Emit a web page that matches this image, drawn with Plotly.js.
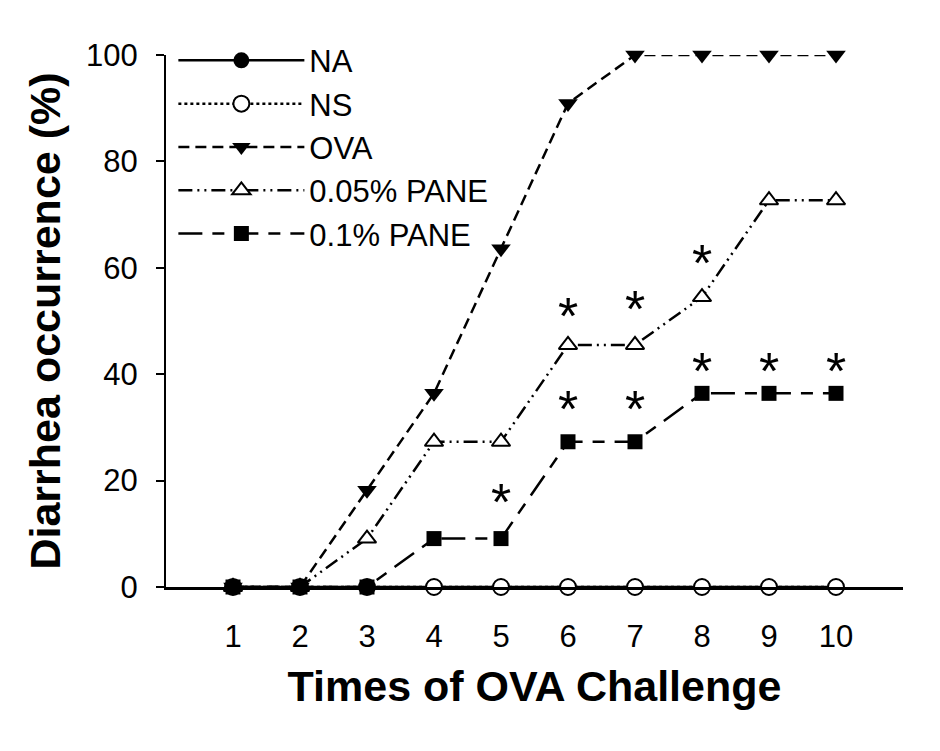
<!DOCTYPE html>
<html>
<head>
<meta charset="utf-8">
<script src="https://cdn.plot.ly/plotly-3.0.1.min.js"></script>
<style>
  html, body { margin: 0; padding: 0; background: #fff; }
  #myPlot { width: 940px; height: 751px; }
</style>
</head>
<body>
<div id="myPlot"></div>
<script>
/**
 * Data
 */
const times = [1, 2, 3, 4, 5, 6, 7, 8, 9, 10];

const na = [0, 0, 0, 0, 0, 0, 0, 0, 0, 0];
const ns = [0, 0, 0, 0, 0, 0, 0, 0, 0, 0];
const ova = [0, 0, 18.2, 36.4, 63.6, 90.9, 100, 100, 100, 100];
const pane005 = [0, 0, 9.1, 27.3, 27.3, 45.5, 45.5, 54.5, 72.7, 72.7];
const pane01 = [0, 0, 0, 9.1, 9.1, 27.3, 27.3, 36.4, 36.4, 36.4];

// significance marks
const starX = [5, 6, 7, 6, 7, 8, 8, 9, 10];
const starY = [15, 50, 51.4, 32.6, 32.6, 60, 39.7, 39.7, 39.7];

const font = "Liberation Sans, Arial, sans-serif";

const myPlot = document.getElementById("myPlot");

const data = [
  {
    type: "scatter", mode: "lines+markers", name: "NA",
    x: times, y: na, cliponaxis: false,
    line: { color: "#000", width: 2.5 },
    marker: { symbol: "circle", size: 16, color: "#000" }
  },
  {
    type: "scatter", mode: "lines+markers", name: "NS",
    x: times, y: ns, cliponaxis: false,
    line: { color: "#000", width: 2.5, dash: "dot" },
    marker: { symbol: "circle", size: 16, color: "#fff", line: { color: "#000", width: 2 } }
  },
  {
    type: "scatter", mode: "lines+markers", name: "OVA",
    x: times, y: ova, cliponaxis: false,
    line: { color: "#000", width: 2.5, dash: "11px,6px" },
    marker: { symbol: "triangle-down", size: 17, color: "#000" }
  },
  {
    type: "scatter", mode: "lines+markers", name: "0.05% PANE",
    x: times, y: pane005, cliponaxis: false,
    line: { color: "#000", width: 2.5, dash: "14px,5px,2px,5px,2px,5px" },
    marker: { symbol: "triangle-up", size: 16, color: "#fff", line: { color: "#000", width: 2 } }
  },
  {
    type: "scatter", mode: "lines+markers", name: "0.1% PANE",
    x: times, y: pane01, cliponaxis: false,
    line: { color: "#000", width: 2.5, dash: "24px,10px,12px,10px" },
    marker: { symbol: "square", size: 15, color: "#000" }
  },
  {
    type: "scatter", mode: "text", showlegend: false, hoverinfo: "skip",
    x: starX, y: starY, cliponaxis: false,
    text: starX.map(() => "*"),
    textposition: "middle center",
    textfont: { family: font, size: 52, color: "#000" }
  }
];

const layout = {
  width: 940,
  height: 751,
  paper_bgcolor: "#fff",
  plot_bgcolor: "#fff",
  font: { family: font, color: "#000" },
  margin: { l: 166, r: 37, t: 55, b: 164 },
  showlegend: true,
  legend: {
    x: 0.01, y: 1.04, xanchor: "left", yanchor: "top",
    bgcolor: "rgba(0,0,0,0)",
    font: { family: font, size: 31, color: "#000" },
    itemwidth: 126,
    tracegroupgap: 0
  },
  xaxis: {
    range: [0, 11],
    tickvals: times,
    ticks: "",
    showgrid: false,
    zeroline: false,
    showline: true,
    linecolor: "#000",
    linewidth: 2.5,
    tickfont: { family: font, size: 31 },
    ticklabelstandoff: 20,
    title: { text: "<b>Times of OVA Challenge</b>", font: { family: font, size: 43 }, standoff: 18 }
  },
  yaxis: {
    range: [0, 100],
    tickvals: [0, 20, 40, 60, 80, 100],
    ticks: "outside",
    ticklen: 8,
    tickwidth: 2,
    tickcolor: "#000",
    showgrid: false,
    zeroline: false,
    showline: true,
    linecolor: "#000",
    linewidth: 2,
    tickfont: { family: font, size: 31 },
    ticklabelstandoff: 12,
    title: { text: "<b>Diarrhea occurrence (%)</b>", font: { family: font, size: 43 }, standoff: 12 }
  }
};

Plotly.newPlot(myPlot, data, layout, { staticPlot: true });
</script>
</body>
</html>
